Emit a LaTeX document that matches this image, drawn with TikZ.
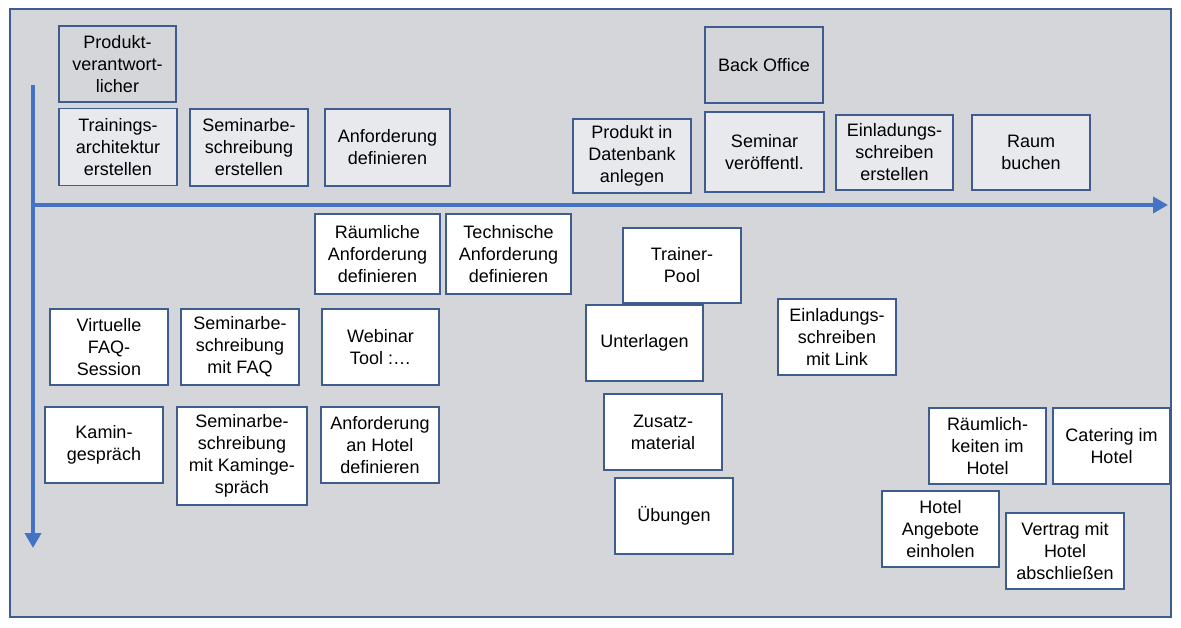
\documentclass[tikz,border=0pt]{standalone}
\usepackage{fontspec}
\setmainfont{Liberation Sans}
\usetikzlibrary{shapes.geometric, arrows.meta}

\definecolor{panelgray}{RGB}{212,214,217}
\definecolor{lightbox}{RGB}{231,233,237}
\definecolor{boxline}{RGB}{62,92,142}
\definecolor{axisblue}{RGB}{68,114,196}

\begin{document}
\begin{tikzpicture}[x=1pt, y=-1pt,
    box/.style={rectangle, draw=boxline, line width=1.5pt, fill=white, align=center, inner sep=0pt, minimum width=118pt, minimum height=76pt, font=\fontsize{18}{22}\selectfont},
    rolebox/.style={box, fill=panelgray},
    taskbox/.style={box, fill=lightbox},
    axis/.style={draw=axisblue, line width=4.5pt, -{Triangle[length=15pt, width=16pt]}}]

        \useasboundingbox (0,0) rectangle (1181,628);
        \draw[draw=boxline, fill=panelgray, line width=1.5pt] (10,9) rectangle (1171,617);

        % axes
        \coordinate (ytop) at (33,85);
        \coordinate (yend) at (33,548);
        \coordinate (xstart) at (33,205);
        \coordinate (xend) at (1168,205);
        \draw[axis] (ytop) -- (yend);
        \draw[axis] (xstart) -- (xend);

        % roles
        \node (role1) [rolebox, minimum width=117pt] at (117.5,64) {Produkt-\\verantwort-\\licher};
        \node (role2) [rolebox] at (764,65) {Back Office};

        % tasks above the axis
        \node (task1) [taskbox, minimum height=77pt] at (118,147) {Trainings-\\architektur\\erstellen};
        \node (task2) [taskbox, minimum height=77pt] at (249,147.5) {Seminarbe-\\schreibung\\erstellen};
        \node (task3) [taskbox, minimum width=125pt, minimum height=77pt] at (387.5,147.5) {Anforderung\\definieren};
        \node (task4) [taskbox, minimum height=74pt] at (632,156) {Produkt in\\Datenbank\\anlegen};
        \node (task5) [taskbox, minimum width=119pt, minimum height=80pt] at (764.5,152) {Seminar\\veröffentl.};
        \node (task6) [taskbox, minimum width=117pt, minimum height=75pt] at (894.5,152.5) {Einladungs-\\schreiben\\erstellen};
        \node (task7) [taskbox, minimum height=75pt] at (1031,152.5) {Raum\\buchen};

        % items below the axis
        \node (item1) [box, minimum width=125pt, minimum height=80pt] at (377.5,254) {Räumliche\\Anforderung\\definieren};
        \node (item2) [box, minimum width=125pt, minimum height=80pt] at (508.5,254) {Technische\\Anforderung\\definieren};
        \node (item3) [box] at (109,347) {Virtuelle\\FAQ-\\Session};
        \node (item4) [box] at (240,347) {Seminarbe-\\schreibung\\mit FAQ};
        \node (item5) [box, minimum width=117pt] at (380.5,347) {Webinar\\Tool :…};
        \node (item6) [box] at (104,445) {Kamin-\\gespräch};
        \node (item7) [box, minimum width=130pt, minimum height=98pt] at (242,456) {Seminarbe-\\schreibung\\mit Kaminge-\\spräch};
        \node (item8) [box] at (380,445) {Anforderung\\an Hotel\\definieren};
        \node (item9) [box, minimum height=75pt] at (682,265.5) {Trainer-\\Pool};
        \node (item10) [box, minimum width=117pt] at (644.5,343) {Unterlagen};
        \node (item11) [box] at (837,337) {Einladungs-\\schreiben\\mit Link};
        \node (item12) [box] at (663,432) {Zusatz-\\material};
        \node (item13) [box] at (674,516) {Übungen};
        \node (item14) [box, minimum width=117pt] at (987.5,446) {Räumlich-\\keiten im\\Hotel};
        \node (item15) [box, minimum width=117pt] at (1111.5,446) {Catering im\\Hotel};
        \node (item16) [box, minimum width=117pt] at (940.5,529) {Hotel\\Angebote\\einholen};
        \node (item17) [box] at (1065,551) {Vertrag mit\\Hotel\\abschließen};

\end{tikzpicture}
\end{document}
